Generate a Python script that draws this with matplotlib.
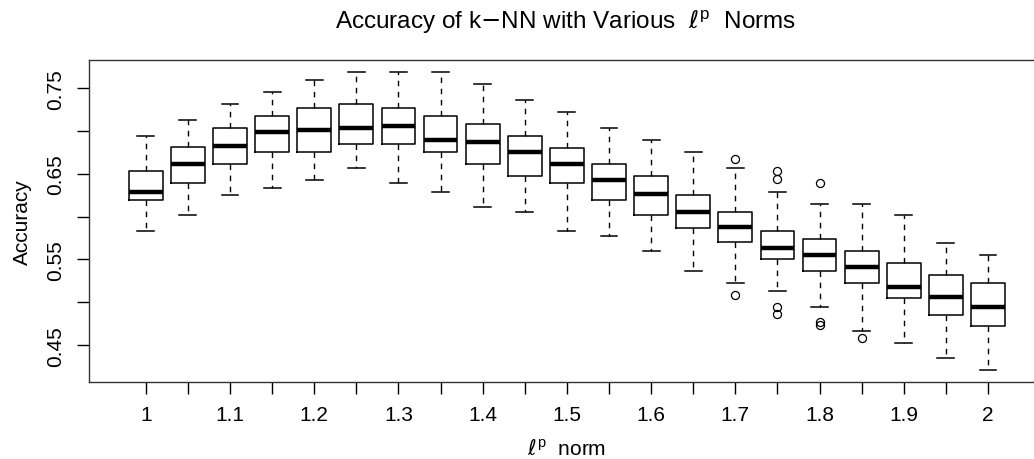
import numpy as np
import matplotlib
matplotlib.use("Agg")
import matplotlib.pyplot as plt

plt.rcParams["font.family"] = ["Liberation Sans", "DejaVu Sans"]
plt.rcParams["mathtext.fontset"] = "dejavusans"

# ---------------------------------------------------------------------------
# Data: boxplot summaries per p value
# ---------------------------------------------------------------------------
p_values = ["1", "1.05", "1.1", "1.15", "1.2", "1.25", "1.3", "1.35", "1.4", "1.45",
            "1.5", "1.55", "1.6", "1.65", "1.7", "1.75", "1.8", "1.85", "1.9", "1.95", "2"]
whisker_low = [0.583, 0.602, 0.625, 0.634, 0.643, 0.657, 0.639, 0.629, 0.611, 0.606,
               0.583, 0.578, 0.560, 0.537, 0.523, 0.513, 0.495, 0.467, 0.453, 0.435, 0.421]
q1 = [0.620, 0.639, 0.662, 0.676, 0.676, 0.685, 0.685, 0.676, 0.662, 0.648,
      0.639, 0.620, 0.602, 0.587, 0.570, 0.550, 0.537, 0.523, 0.505, 0.485, 0.472]
median = [0.629, 0.662, 0.683, 0.699, 0.701, 0.704, 0.706, 0.690, 0.687, 0.676,
          0.662, 0.643, 0.627, 0.606, 0.588, 0.564, 0.555, 0.541, 0.518, 0.506, 0.495]
q3 = [0.653, 0.681, 0.704, 0.718, 0.727, 0.732, 0.727, 0.718, 0.708, 0.694,
      0.680, 0.662, 0.648, 0.625, 0.606, 0.583, 0.574, 0.560, 0.546, 0.532, 0.523]
whisker_high = [0.694, 0.713, 0.732, 0.746, 0.759, 0.769, 0.769, 0.769, 0.755, 0.736,
                0.722, 0.704, 0.690, 0.676, 0.657, 0.629, 0.615, 0.615, 0.602, 0.569, 0.555]
outliers = [[], [], [], [], [], [], [], [], [], [],
            [], [], [], [], [0.667, 0.509], [0.653, 0.644, 0.495, 0.486],
            [0.639, 0.477, 0.473], [0.458], [], [], []]

stats = []
for i in range(len(p_values)):
    stats.append({"whislo": whisker_low[i], "q1": q1[i], "med": median[i],
                  "q3": q3[i], "whishi": whisker_high[i], "fliers": outliers[i]})

# ---------------------------------------------------------------------------
# Plot (R-style boxplot)
# ---------------------------------------------------------------------------
fig = plt.figure(figsize=(10.34, 4.6), dpi=100)
ax = fig.add_axes([0.0864, 0.168, 0.9237, 0.699])

pos = np.arange(1, len(p_values) + 1)
ax.bxp(stats, positions=pos, widths=0.8, showfliers=True,
       boxprops=dict(color="black", linewidth=1.1),
       medianprops=dict(color="black", linewidth=3.2, solid_capstyle="butt"),
       whiskerprops=dict(color="black", linewidth=1.0, linestyle=(0, (4, 4))),
       capprops=dict(color="black", linewidth=1.1),
       capwidths=0.4,
       flierprops=dict(marker="o", markersize=5.8, markerfacecolor="none",
                       markeredgecolor="black", markeredgewidth=0.9))

ax.set_xlim(-0.34, len(p_values) + 1.34)
ax.set_ylim(0.4073, 0.7827)

# every other box gets a tick label, like R drops overlapping ones
ax.set_xticks(pos)
ax.set_xticklabels([lab if i % 2 == 0 else "" for i, lab in enumerate(p_values)])
yt = [0.45, 0.50, 0.55, 0.60, 0.65, 0.70, 0.75]
ax.set_yticks(yt)
ax.set_yticklabels(["0.45", "", "0.55", "", "0.65", "", "0.75"], rotation=90, va="center")

ax.tick_params(axis="both", length=8.5, width=1.0, labelsize=15, direction="out")
ax.tick_params(axis="x", pad=8)
ax.tick_params(axis="y", pad=9)
for sp in ax.spines.values():
    sp.set_color("#333333")
    sp.set_linewidth(1.0)

ax.set_ylabel("Accuracy", fontsize=15, labelpad=10)
ax.set_xlabel(r"$\ell^{\mathregular{p}}$  norm", fontsize=15, labelpad=10)
fig.text(0.547, 0.953, r"Accuracy of k$-$NN with Various  $\ell^{\mathregular{p}}$  Norms",
         ha="center", va="center", fontsize=17.5)

fig.savefig("out.png", dpi=100)
